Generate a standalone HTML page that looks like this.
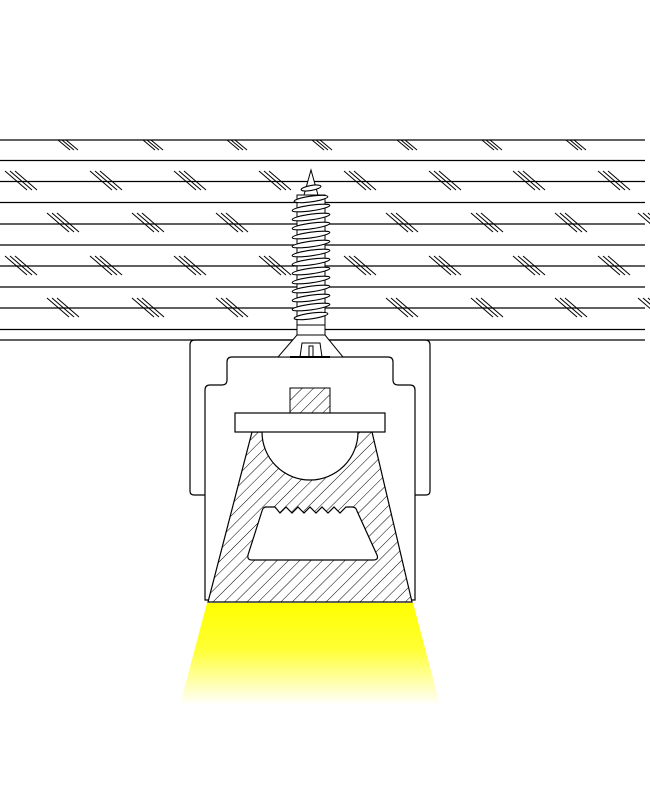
<!DOCTYPE html>
<html><head><meta charset="utf-8"><style>html,body{margin:0;padding:0;background:#fff}svg{display:block}</style></head>
<body>
<svg width="650" height="800" viewBox="0 0 650 800" xmlns="http://www.w3.org/2000/svg">
<defs>
<pattern id="h" width="8" height="8" patternUnits="userSpaceOnUse" patternTransform="rotate(45)">
<rect width="8" height="8" fill="#fff"/><line x1="0" y1="0" x2="0" y2="8" stroke="#000" stroke-width="1"/>
</pattern>
<linearGradient id="y" x1="0" y1="0" x2="0" y2="1">
<stop offset="0" stop-color="#ffff00"/><stop offset="0.45" stop-color="#ffff33"/><stop offset="1" stop-color="#ffffff"/>
</linearGradient>
<g id="m" stroke="#000" stroke-width="1">
<line x1="0" y1="0" x2="22" y2="19"/><line x1="5" y1="0" x2="27" y2="19"/><line x1="10" y1="0" x2="32" y2="19"/>
</g>
<g id="s" stroke="#000" stroke-width="1">
<line x1="0" y1="0" x2="12" y2="10"/><line x1="4" y1="0" x2="16" y2="10"/><line x1="8" y1="0" x2="20" y2="10"/>
</g>
</defs>
<g stroke="#000" stroke-width="1.2">
<line x1="0" y1="140" x2="645" y2="140"/>
<line x1="0" y1="160.5" x2="645" y2="160.5"/>
<line x1="0" y1="181.5" x2="645" y2="181.5"/>
<line x1="0" y1="202.5" x2="645" y2="202.5"/>
<line x1="0" y1="224" x2="645" y2="224"/>
<line x1="0" y1="245" x2="645" y2="245"/>
<line x1="0" y1="266" x2="645" y2="266"/>
<line x1="0" y1="287" x2="645" y2="287"/>
<line x1="0" y1="308" x2="645" y2="308"/>
<line x1="0" y1="329.5" x2="645" y2="329.5"/>
<line x1="0" y1="340" x2="645" y2="340"/>
</g>
<g>
<use href="#s" x="58" y="140"/><use href="#s" x="143" y="140"/><use href="#s" x="227" y="140"/><use href="#s" x="312" y="140"/><use href="#s" x="397" y="140"/><use href="#s" x="482" y="140"/><use href="#s" x="566" y="140"/>
<use href="#m" x="5" y="171"/><use href="#m" x="90" y="171"/><use href="#m" x="174" y="171"/><use href="#m" x="259" y="171"/><use href="#m" x="344" y="171"/><use href="#m" x="429" y="171"/><use href="#m" x="513" y="171"/><use href="#m" x="598" y="171"/>
<use href="#m" x="47" y="213"/><use href="#m" x="132" y="213"/><use href="#m" x="216" y="213"/><use href="#m" x="386" y="213"/><use href="#m" x="471" y="213"/><use href="#m" x="555" y="213"/><use href="#m" x="638" y="213"/>
<use href="#m" x="5" y="256"/><use href="#m" x="90" y="256"/><use href="#m" x="174" y="256"/><use href="#m" x="259" y="256"/><use href="#m" x="344" y="256"/><use href="#m" x="429" y="256"/><use href="#m" x="513" y="256"/><use href="#m" x="598" y="256"/>
<use href="#m" x="47" y="298"/><use href="#m" x="132" y="298"/><use href="#m" x="216" y="298"/><use href="#m" x="386" y="298"/><use href="#m" x="471" y="298"/><use href="#m" x="555" y="298"/><use href="#m" x="638" y="298"/>
</g>
<polygon points="207,603 413,603 440,705 180,705" fill="url(#y)"/>
<path d="M212,480 L212,490 Q212,495 207,495 L194,495 Q190,495 190,491 L190,345 Q190,340 195,340 L425,340 Q430,340 430,345 L430,491 Q430,495 426,495 L413,495 Q408,495 408,490 L408,480" fill="none" stroke="#000" stroke-width="1.2"/>
<path d="M212,480 Q205,470 212,462 M408,480 Q415,470 408,462" fill="none" stroke="#000" stroke-width="1.2"/>
<path d="M205,600 L205,390 Q205,385 210,385 L222,385 Q227,385 227,380 L227,362 Q227,357 232,357 L388,357 Q393,357 393,362 L393,380 Q393,385 398,385 L410,385 Q415,385 415,390 L415,600 Z" fill="#fff" stroke="#000" stroke-width="1.2"/>
<rect x="290" y="388" width="40" height="25" fill="url(#h)" stroke="#000" stroke-width="1"/>
<path d="M252,432 L262,432 A48,48 0 0 0 358,432 L372,432 L412,602 L208,602 Z" fill="url(#h)" stroke="#000" stroke-width="1.2"/>
<path d="M266,507 L275,507 L280,513 L286,507 L292,513 L298,507 L304,513 L310,507 L316,513 L322,507 L328,513 L334,507 L340,513 L346,507 L352,507 Q356,507 357,511 L377,555 Q379,560 373,560 L252,560 Q247,560 248,555 L262,511 Q263,507 266,507 Z" fill="#fff" stroke="#000" stroke-width="1.2"/>
<rect x="235" y="413" width="150" height="19" fill="#fff" stroke="#000" stroke-width="1.2"/>
<g stroke="#000" stroke-width="1" fill="#fff">
<path d="M311,170 L318,195 L304,195 Z"/>
<rect x="297" y="195" width="28" height="130"/>
<path d="M297,335 L325,335 L343,357 L278,357 Z"/>
<rect x="297" y="325" width="28" height="10"/>
<line x1="290" y1="357" x2="330" y2="357" stroke-width="2"/>
<path d="M300,357 L302,343 L320,343 L322,357 M309,357 L309,346 L313,346 L313,357" fill="none"/>
<g stroke-width="1.1">
<ellipse cx="311" cy="188" rx="10" ry="2.5" transform="rotate(-10 311 188)"/>
<ellipse cx="311" cy="199" rx="17" ry="2.8" transform="rotate(-8 311 199)"/>
<ellipse cx="311" cy="208" rx="19" ry="2.8" transform="rotate(-8 311 208)"/>
<ellipse cx="311" cy="217" rx="19" ry="2.8" transform="rotate(-8 311 217)"/>
<ellipse cx="311" cy="226" rx="19" ry="2.8" transform="rotate(-8 311 226)"/>
<ellipse cx="311" cy="235" rx="19" ry="2.8" transform="rotate(-8 311 235)"/>
<ellipse cx="311" cy="244" rx="19" ry="2.8" transform="rotate(-8 311 244)"/>
<ellipse cx="311" cy="253" rx="19" ry="2.8" transform="rotate(-8 311 253)"/>
<ellipse cx="311" cy="262" rx="19" ry="2.8" transform="rotate(-8 311 262)"/>
<ellipse cx="311" cy="271" rx="19" ry="2.8" transform="rotate(-8 311 271)"/>
<ellipse cx="311" cy="280" rx="19" ry="2.8" transform="rotate(-8 311 280)"/>
<ellipse cx="311" cy="289" rx="19" ry="2.8" transform="rotate(-8 311 289)"/>
<ellipse cx="311" cy="298" rx="19" ry="2.8" transform="rotate(-8 311 298)"/>
<ellipse cx="311" cy="307" rx="19" ry="2.8" transform="rotate(-8 311 307)"/>
<ellipse cx="311" cy="316" rx="17" ry="2.8" transform="rotate(-8 311 316)"/>
</g>
</g>
</svg>
</body></html>
